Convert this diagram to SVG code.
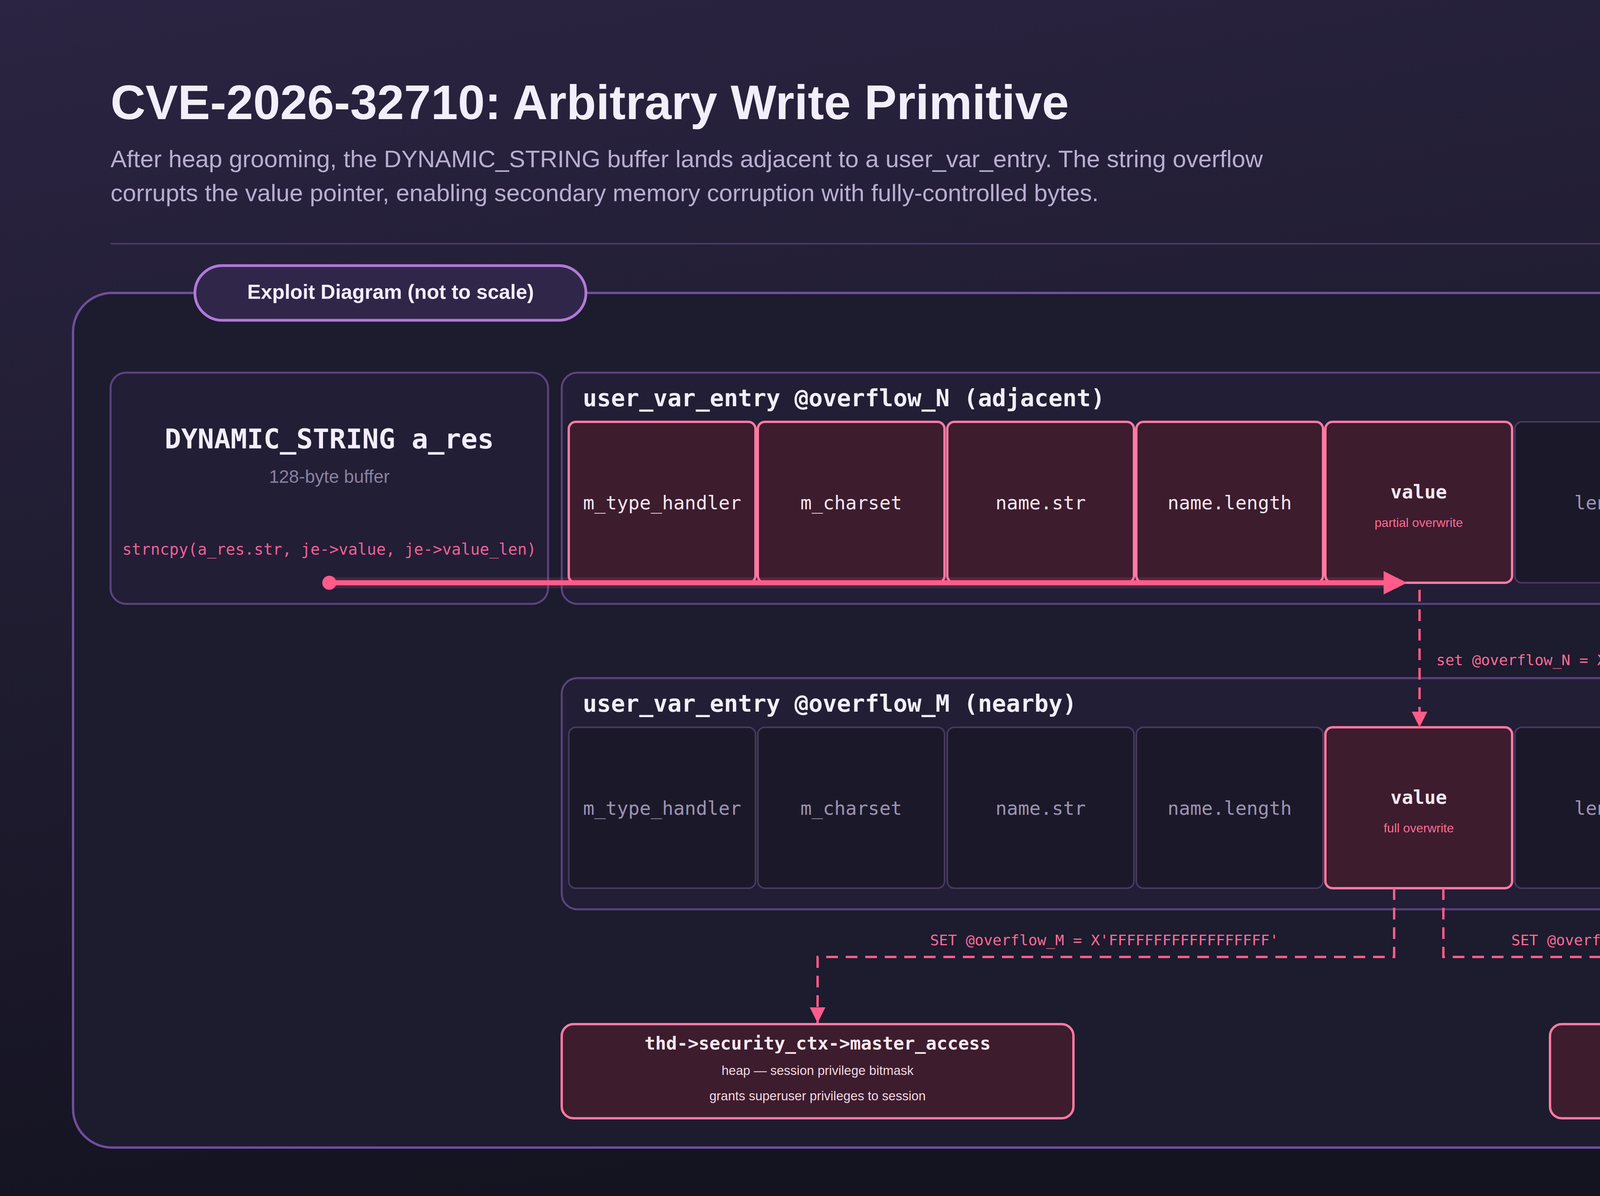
<svg xmlns="http://www.w3.org/2000/svg" width="5625" height="3062" viewBox="0 0 5625 3062">
<defs>
<linearGradient id="bg" x1="0" y1="0" x2="0.3" y2="1">
<stop offset="0" stop-color="#2b2442"/><stop offset="0.5" stop-color="#1f1c30"/><stop offset="1" stop-color="#141320"/>
</linearGradient>
<marker id="tri" markerWidth="10" markerHeight="10" refX="9" refY="5" orient="auto" markerUnits="userSpaceOnUse" viewBox="0 0 10 10">
<path d="M0,0 L10,5 L0,10 z" fill="#ff5c8a"/>
</marker>
<marker id="dtri" viewBox="0 0 10 10" refX="10" refY="5" markerWidth="44" markerHeight="40" orient="auto" markerUnits="userSpaceOnUse">
<path d="M0,0 L10,5 L0,10 z" fill="#ff5c8a"/>
</marker>
<marker id="btri" viewBox="0 0 10 10" refX="8" refY="5" markerWidth="60" markerHeight="64" orient="auto" markerUnits="userSpaceOnUse">
<path d="M0,0 L10,5 L0,10 z" fill="#ff5c8a"/>
</marker>
<style>
.mono{font-family:"DejaVu Sans Mono","Liberation Mono",monospace}
.sans{font-family:"Liberation Sans",Arial,sans-serif}
.panel{fill:#221e35;stroke:#5a447f;stroke-width:5}
.hot{fill:#3d1c2e;stroke:#ff7aa2;stroke-width:6}
.cold{fill:#1b1929;stroke:#463a5e;stroke-width:4}
.hl{fill:#f4e8f0;font-size:48px;text-anchor:middle}
.cl{fill:#9d93b3;font-size:48px;text-anchor:middle}
.ptitle{fill:#f2eefa;font-size:60px;font-weight:bold}
.sub{fill:#ff6b95;font-size:32px;text-anchor:middle}
.lbl{fill:#ff6b95;font-size:38px}
.dash{fill:none;stroke:#ff5c8a;stroke-width:6;stroke-dasharray:30 20}
.tgt{fill:#3d1c2e;stroke:#ff7aa2;stroke-width:6}
.tt{fill:#fde8ee;font-size:46px;font-weight:bold;text-anchor:middle}
.ts{fill:#f1d8e0;font-size:33px;text-anchor:middle}
</style>
</defs>
<rect width="5625" height="3062" fill="url(#bg)"/>

<g id="header">
<text x="283" y="305" class="sans" font-size="124" font-weight="bold" fill="#f3eefb">CVE-2026-32710: Arbitrary Write Primitive</text>
<text x="283" y="428" class="sans" font-size="62" fill="#b9aed0">After heap grooming, the DYNAMIC_STRING buffer lands adjacent to a user_var_entry. The string overflow</text>
<text x="283" y="515" class="sans" font-size="62" fill="#b9aed0">corrupts the value pointer, enabling secondary memory corruption with fully-controlled bytes.</text>
<text x="4250" y="312" class="sans" font-size="140" font-style="italic" font-weight="100" fill="#f3eefb" textLength="555" lengthAdjust="spacingAndGlyphs">ZERODAY.</text>
<text x="4820" y="312" class="sans" font-size="140" font-style="italic" font-weight="900" fill="#f3eefb" textLength="493" lengthAdjust="spacingAndGlyphs" stroke="#f3eefb" stroke-width="6">CLOUD</text>
<line x1="283" y1="624" x2="5342" y2="624" stroke="#4a3a66" stroke-width="4"/>
</g>

<g id="frame">
<rect x="187" y="750" width="5251" height="2188" rx="100" fill="#1d1b2e" stroke="#6e4f9c" stroke-width="6"/>
<rect x="499" y="680" width="1001" height="140" rx="70" fill="#30264a" stroke="#b07ad6" stroke-width="7"/>
<text x="1000" y="765" class="sans" font-size="52" font-weight="bold" fill="#f3eefb" text-anchor="middle">Exploit Diagram (not to scale)</text>
</g>

<g id="dynamic_string">
<rect x="283" y="954" width="1120" height="592" rx="40" class="panel"/>
<text x="843" y="1148" class="mono" font-size="70" font-weight="bold" fill="#f3eefb" text-anchor="middle">DYNAMIC_STRING a_res</text>
<text x="843" y="1236" class="sans" font-size="46" fill="#8a81a3" text-anchor="middle">128-byte buffer</text>
<text x="843" y="1420" class="mono" font-size="40" fill="#f0609a" text-anchor="middle">strncpy(a_res.str, je-&gt;value, je-&gt;value_len)</text>
</g>

<g id="entry_N">
<rect x="1438" y="954" width="3904" height="592" rx="40" class="panel"/>
<text x="1492" y="1040" class="mono ptitle">user_var_entry @overflow_N (adjacent)</text>
<rect x="1456" y="1080" width="478" height="412" rx="18" class="hot"/>
<rect x="1940" y="1080" width="478" height="412" rx="18" class="hot"/>
<rect x="2425" y="1080" width="478" height="412" rx="18" class="hot"/>
<rect x="2909" y="1080" width="478" height="412" rx="18" class="hot"/>
<rect x="3393" y="1080" width="478" height="412" rx="18" class="hot"/>
<rect x="3878" y="1080" width="478" height="412" rx="18" class="cold"/>
<rect x="4362" y="1080" width="478" height="412" rx="18" class="cold"/>
<rect x="4846" y="1080" width="478" height="412" rx="18" class="cold"/>
<text x="1695" y="1304" class="mono hl">m_type_handler</text>
<text x="2179" y="1304" class="mono hl">m_charset</text>
<text x="2664" y="1304" class="mono hl">name.str</text>
<text x="3148" y="1304" class="mono hl">name.length</text>
<text x="3632" y="1276" class="mono hl" font-weight="bold">value</text>
<text x="3632" y="1349" class="sans sub">partial overwrite</text>
<text x="4117" y="1304" class="mono cl">length</text>
<text x="4601" y="1304" class="mono cl">update_query_id</text>
<text x="5085" y="1304" class="mono cl">used_query_id</text>
</g>

<g id="entry_M">
<rect x="1438" y="1736" width="3904" height="592" rx="40" class="panel"/>
<text x="1492" y="1822" class="mono ptitle">user_var_entry @overflow_M (nearby)</text>
<rect x="1456" y="1862" width="478" height="412" rx="18" class="cold"/>
<rect x="1940" y="1862" width="478" height="412" rx="18" class="cold"/>
<rect x="2425" y="1862" width="478" height="412" rx="18" class="cold"/>
<rect x="2909" y="1862" width="478" height="412" rx="18" class="cold"/>
<rect x="3393" y="1862" width="478" height="412" rx="18" class="hot"/>
<rect x="3878" y="1862" width="478" height="412" rx="18" class="cold"/>
<rect x="4362" y="1862" width="478" height="412" rx="18" class="cold"/>
<rect x="4846" y="1862" width="478" height="412" rx="18" class="cold"/>
<text x="1695" y="2086" class="mono cl">m_type_handler</text>
<text x="2179" y="2086" class="mono cl">m_charset</text>
<text x="2664" y="2086" class="mono cl">name.str</text>
<text x="3148" y="2086" class="mono cl">name.length</text>
<text x="3632" y="2058" class="mono hl" font-weight="bold">value</text>
<text x="3632" y="2131" class="sans sub">full overwrite</text>
<text x="4117" y="2086" class="mono cl">length</text>
<text x="4601" y="2086" class="mono cl">update_query_id</text>
<text x="5085" y="2086" class="mono cl">used_query_id</text>
</g>

<g id="target_master_access">
<rect x="1438" y="2622" width="1310" height="241" rx="30" class="tgt"/>
<text x="2093" y="2687" class="mono tt">thd-&gt;security_ctx-&gt;master_access</text>
<text x="2093" y="2752" class="sans ts">heap — session privilege bitmask</text>
<text x="2093" y="2817" class="sans ts">grants superuser privileges to session</text>
</g>

<g id="target_plugin_dir">
<rect x="3968" y="2622" width="1313" height="241" rx="30" class="tgt"/>
<text x="4624" y="2687" class="mono tt">plugin_dir</text>
<text x="4624" y="2752" class="sans ts">.data — UDF plugin search path</text>
<text x="4624" y="2817" class="sans ts">redirects UDF loading to attacker path</text>
</g>

<g id="connectors">
<line x1="843" y1="1492" x2="3580" y2="1492" stroke="#ff5c8a" stroke-width="28" stroke-opacity="0.15"/>
<circle cx="843" cy="1492" r="18" fill="#ff5c8a"/>
<line x1="843" y1="1492" x2="3590" y2="1492" stroke="#ff5c8a" stroke-width="13" marker-end="url(#btri)"/>
<path d="M3634,1510 V1862" class="dash" marker-end="url(#dtri)"/>
<text x="3677" y="1703" class="mono lbl">set @overflow_N = X'{addr}'</text>
<path d="M3569,2274 V2450 H2093 V2619" class="dash" marker-end="url(#dtri)"/>
<path d="M3695,2274 V2450 H4624 V2619" class="dash" marker-end="url(#dtri)"/>
<text x="2827" y="2420" class="mono lbl" text-anchor="middle">SET @overflow_M = X'FFFFFFFFFFFFFFFFFF'</text>
<text x="4155" y="2420" class="mono lbl" text-anchor="middle">SET @overflow_M = '/tmp/'</text>
</g>
</svg>
